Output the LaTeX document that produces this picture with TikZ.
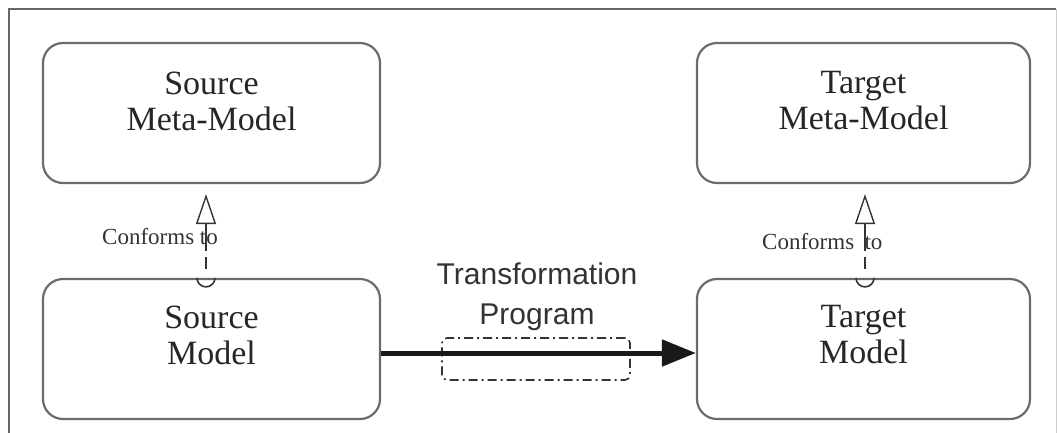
\documentclass[tikz,border=0pt]{standalone}
\usepackage{fontspec}
\setmainfont{Liberation Serif}
\newfontfamily\arialfont{Liberation Sans}
\usetikzlibrary{arrows.meta,calc}
\begin{document}
\begin{tikzpicture}[x=1pt,y=-1pt,
  box/.style={draw=black!58, line width=2.2pt, rounded corners=20pt, minimum width=337pt, minimum height=140pt, inner sep=0pt},
  boxtext/.style={align=center, inner sep=0pt, text=black!85, font=\fontsize{34}{36}\selectfont},
  conf/.style={draw=black!80, line width=1.6pt, dash pattern=on 12pt off 6pt on 300pt off 0pt,
    -{Triangle[open, length=30pt, width=20pt, line width=1.4pt]}},
  dome/.style={draw=black!80, line width=1.6pt},
  conftext/.style={inner sep=0pt, text=black!80, font=\fontsize{23}{26}\selectfont},
  mainarrow/.style={draw=black!90, line width=5pt, -{Triangle[length=34pt, width=26pt]}},
  progbox/.style={draw=black!80, line width=1.6pt, rounded corners=5pt, dash pattern=on 9pt off 4pt on 2pt off 4pt, minimum width=188pt, minimum height=42pt, inner sep=0pt},
  progtext/.style={align=center, inner sep=0pt, text=black!80, font=\arialfont\fontsize{30}{40}\selectfont}
]
\useasboundingbox (0,0) rectangle (1057,432);
% frame
\draw[black!60, line width=2pt] (9,433) -- (9,9) -- (1056,9);
\draw[black!20, line width=1pt] (1056,9) -- (1056,433);

% boxes
\node[box] (smm) at (211.5,113) {};
\node[box, minimum width=333pt] (tmm) at (863.5,113) {};
\node[box] (smod) at (211.5,349) {};
\node[box, minimum width=333pt] (tmod) at (863.5,349) {};

\node[boxtext] (smmt) at (211.5,101) {Source\\Meta-Model};
\node[boxtext] (tmmt) at (863.5,100.5) {Target\\Meta-Model};
\node[boxtext] (smodt) at (211.5,335) {Source\\Model};
\node[boxtext] (tmodt) at (863.5,335) {Target\\Model};

% conforms-to connectors
\draw[conf] ($(smod.north)+(-5.5,-9)$) -- ($(smm.south)+(-5.5,10)$);
\draw[dome] ($(smod.north)+(-14.5,0)$) arc (180:0:9);
\draw[conf] ($(tmod.north)+(1.5,-9)$) -- ($(tmm.south)+(1.5,10)$);
\draw[dome] ($(tmod.north)+(-7.5,0)$) arc (180:0:9);

\node[conftext, anchor=base west] (c1) at (102,244) {Conforms to};
\node[conftext, anchor=base west] (c2) at (762,249) {Conforms\hspace{0.45em}to};

% transformation program
\node[progbox] (tp) at (536,359) {};
\node[progtext] (tpl) at (537,297) {Transformation\\Program};
\draw[mainarrow] ($(smod.east)+(0,4)$) -- ($(tmod.west)+(0,4)$);
\end{tikzpicture}
\end{document}
